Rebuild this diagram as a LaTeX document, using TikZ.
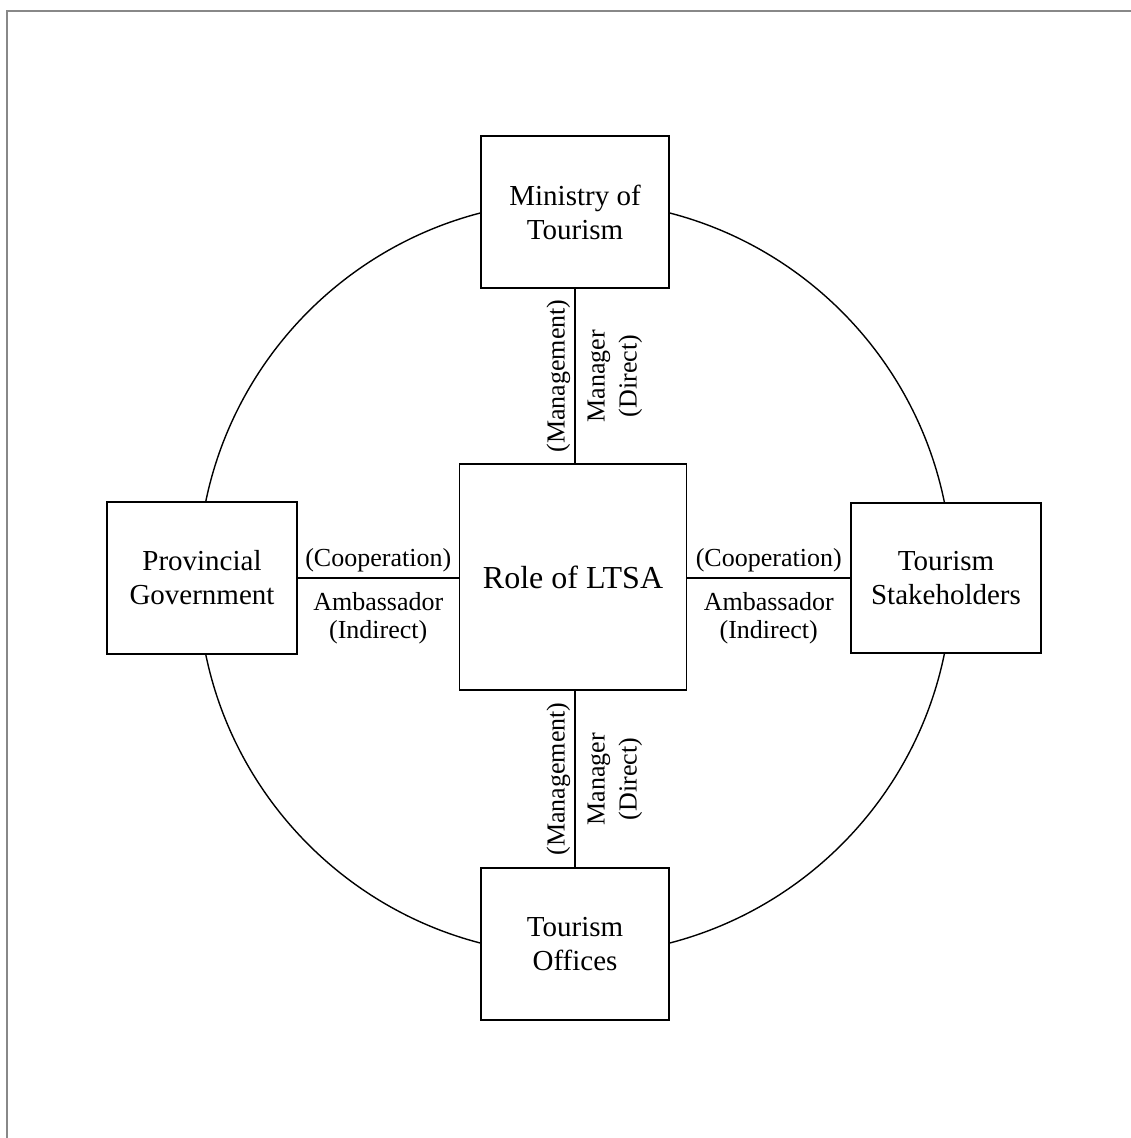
\documentclass[tikz,border=0pt]{standalone}
\usepackage{fontspec}
\setmainfont{Liberation Serif}
\begin{document}
\begin{tikzpicture}[x=1pt,y=-1pt,
  box/.style={draw=black, line width=1.7pt, fill=white, rectangle, align=center,
    inner sep=0pt, font=\fontsize{29}{34}\selectfont},
  conn/.style={draw=black, line width=1.4pt},
  labA/.style={font=\fontsize{26}{28}\selectfont, align=center, anchor=south, inner sep=5pt},
  labB/.style={font=\fontsize{26}{28}\selectfont, align=center, anchor=north, inner sep=14pt},
  labL/.style={font=\fontsize{26}{32}\selectfont, align=center, rotate=90, anchor=south, inner sep=4pt},
  labR/.style={font=\fontsize{26}{32}\selectfont, align=center, rotate=90, anchor=north, inner sep=12pt}]
\useasboundingbox (0,0) rectangle (1131,1138);
% frame (partially visible)
\draw[color={rgb,255:red,136;green,136;blue,136}, line width=2pt] (6.5,1138) -- (6.5,10.5) -- (1131,10.5);
% circle
\coordinate (c) at (575,578);
\draw[line width=1.4pt] (c) circle (377);
% nodes
\node[box, minimum width=227pt, minimum height=226pt, font=\fontsize{32}{38}\selectfont] (role) at (573,577) {Role of LTSA};
\node[box, minimum width=188pt, minimum height=152pt] (ministry) at (575,212) {Ministry of\\Tourism};
\node[box, minimum width=190pt, minimum height=152pt] (prov) at (202,578) {Provincial\\Government};
\node[box, minimum width=190pt, minimum height=150pt] (stake) at (946,578) {Tourism\\Stakeholders};
\node[box, minimum width=188pt, minimum height=152pt] (offices) at (575,944) {Tourism\\Offices};
% connectors
\draw[conn] (ministry.south) -- node[labL] {(Management)} node[labR] {Manager\\(Direct)} (ministry.south |- role.north);
\draw[conn] (ministry.south |- role.south) -- node[labL] {(Management)} node[labR] {Manager\\(Direct)} (offices.north);
\draw[conn] (prov.east) -- node[labA] {(Cooperation)} node[labB] {Ambassador\\(Indirect)} (prov.east -| role.west);
\draw[conn] (stake.west -| role.east) -- node[labA] {(Cooperation)} node[labB] {Ambassador\\(Indirect)} (stake.west);
\end{tikzpicture}
\end{document}
